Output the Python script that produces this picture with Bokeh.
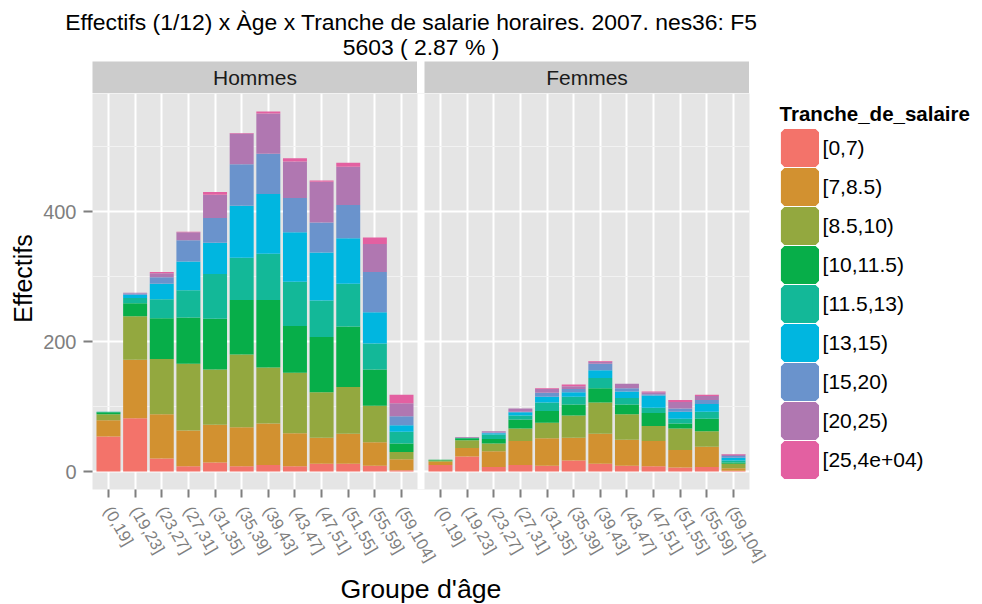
import math
from bokeh.plotting import figure
from bokeh.models import (ColumnDataSource, Range1d, FixedTicker, Legend, LegendItem,
                          BoxAnnotation)
from bokeh.layouts import column, row
from bokeh.embed import file_html
from bokeh.resources import INLINE
from bokeh.core.properties import value

FONT = "Liberation Sans"

# ---------------- data ----------------
age_groups = ["(0,19]", "(19,23]", "(23,27]", "(27,31]", "(31,35]", "(35,39]",
              "(39,43]", "(43,47]", "(47,51]", "(51,55]", "(55,59]", "(59,104]"]
tranches = ["[0,7)", "[7,8.5)", "[8.5,10)", "[10,11.5)", "[11.5,13)",
            "[13,15)", "[15,20)", "[20,25)", "[25,4e+04)"]
colors = ["#F3736A", "#D29130", "#93A83F", "#07AE49", "#13B898",
          "#00B6E0", "#6A93CC", "#B077B1", "#E360A1"]
facets = ["Hommes", "Femmes"]
y_ticks = [0, 200, 400]
y_minor = [100, 300, 500]

hommes_t0 = [54, 82, 20, 8, 14, 8, 10, 8, 12, 12, 9, 2]
hommes_t1 = [25, 90, 68, 55, 58, 60, 64, 51, 40, 46, 36, 17]
hommes_t2 = [9, 67, 85, 103, 85, 112, 86, 93, 70, 72, 56, 11]
hommes_t3 = [3, 20, 63, 71, 78, 84, 104, 72, 85, 93, 56, 13]
hommes_t4 = [1, 8, 29, 42, 69, 65, 71, 68, 56, 66, 40, 18]
hommes_t5 = [0, 5, 24, 44, 48, 80, 92, 76, 74, 70, 48, 10]
hommes_t6 = [0, 2, 10, 33, 38, 64, 62, 53, 46, 51, 62, 14]
hommes_t7 = [0, 1, 6, 12, 36, 47, 62, 56, 63, 59, 43, 20]
hommes_t8 = [0, 0, 2, 1, 4, 1, 3, 5, 2, 6, 10, 13]

femmes_t0 = [10, 23, 7, 10, 9, 17, 12, 9, 8, 6, 7, 1]
femmes_t1 = [5, 13, 24, 37, 42, 35, 46, 40, 39, 27, 31, 4]
femmes_t2 = [2, 12, 12, 19, 24, 34, 48, 39, 23, 33, 24, 7]
femmes_t3 = [1, 3, 7, 14, 18, 17, 22, 15, 20, 8, 19, 2]
femmes_t4 = [0, 1, 7, 6, 13, 12, 16, 10, 8, 7, 11, 3]
femmes_t5 = [0, 0, 2, 5, 9, 7, 12, 10, 19, 11, 12, 4]
femmes_t6 = [0, 0, 1, 1, 6, 5, 10, 5, 2, 5, 6, 3]
femmes_t7 = [0, 1, 2, 5, 6, 4, 3, 7, 3, 10, 6, 2]
femmes_t8 = [0, 0, 0, 0, 1, 3, 1, 0, 1, 3, 2, 1]

hommes = [hommes_t0, hommes_t1, hommes_t2, hommes_t3, hommes_t4,
          hommes_t5, hommes_t6, hommes_t7, hommes_t8]
femmes = [femmes_t0, femmes_t1, femmes_t2, femmes_t3, femmes_t4,
          femmes_t5, femmes_t6, femmes_t7, femmes_t8]

title1 = "Effectifs (1/12) x Àge x Tranche de salarie horaires. 2007. nes36:  F5"
title2 = "5603 ( 2.87 % )"
x_title = "Groupe d'âge"
y_title = "Effectifs"
legend_title = "Tranche_de_salaire"

# ---------------- geometry (px) ----------------
PANEL_W = 325          # facet panel width
GAP_W = 7              # gap between facet panels
PANEL_H = 396
LEFT = 54              # room for y tick labels
BOTTOM = 86            # room for rotated x tick labels
RIGHT = 20
TITLE_H = 60
STRIP_H = 33
XT_H = 28
YL_W = 38
LG_W = 982 - YL_W - (LEFT + 2 * PANEL_W + GAP_W + RIGHT)
ROW_H = STRIP_H + PANEL_H + BOTTOM

n = len(age_groups)
span = n + 0.2                       # ggplot discrete expansion 0.6 each side
gap_u = GAP_W * span / PANEL_W
offset = span + gap_u                # Femmes panel offset in x units
x_h = [i + 1.0 for i in range(n)]
x_f = [i + 1.0 + offset for i in range(n)]
x_range = Range1d(0.4, 0.4 + 2 * span + gap_u)

keys = ["t%d" % i for i in range(len(tranches))]
totals = [sum(v) for v in zip(*hommes)] + [sum(v) for v in zip(*femmes)]
ymax = max(totals)
pad = 0.05 * ymax
y_range = Range1d(-pad, ymax + pad)

GREY_TXT = "#7F7F7F"


def blank(p):
    p.xgrid.visible = False
    p.ygrid.visible = False


def make_canvas(width, height):
    c = figure(width=width, height=height, x_range=Range1d(0, width),
               y_range=Range1d(0, height),
               x_axis_location=None, y_axis_location=None, output_backend="svg",
               toolbar_location=None, min_border=0, outline_line_color=None,
               border_fill_color="white", background_fill_color="white")
    blank(c)
    return c


def make_strip(label, width, left):
    s = figure(width=width, height=STRIP_H, x_range=Range1d(0, 1), y_range=Range1d(0, 1),
               x_axis_location=None, y_axis_location=None, output_backend="svg",
               toolbar_location=None, min_border_left=left, min_border_right=0,
               min_border_top=1, min_border_bottom=0, background_fill_color="#CCCCCC",
               border_fill_color="white", outline_line_color=None)
    blank(s)
    s.text(x=[0.5], y=[0.5], text=[label], text_align="center", text_baseline="middle",
           text_font=value(FONT), text_font_size="21px", text_color="#1A1A1A")
    return s


# ---------------- main panels ----------------
main = figure(width=LEFT + 2 * PANEL_W + GAP_W + RIGHT, height=PANEL_H + BOTTOM,
              x_range=x_range, y_range=y_range,
              output_backend="svg", toolbar_location=None,
              min_border_left=LEFT, min_border_right=RIGHT, min_border_top=0,
              min_border_bottom=BOTTOM, background_fill_color="#E5E5E5",
              border_fill_color="white", outline_line_color=None)

src_h = ColumnDataSource(dict(x=x_h, **{k: v for k, v in zip(keys, hommes)}))
src_f = ColumnDataSource(dict(x=x_f, **{k: v for k, v in zip(keys, femmes)}))
main.vbar_stack(keys, x="x", width=0.9, fill_color=colors, line_color=None, source=src_h)
main.vbar_stack(keys, x="x", width=0.9, fill_color=colors, line_color=None, source=src_f)

# white gap between the two facet panels
main.add_layout(BoxAnnotation(left=0.4 + span, right=0.4 + span + gap_u,
                              fill_color="white", fill_alpha=1, line_color=None,
                              level="underlay"))

xa = main.xaxis[0]
xa.ticker = FixedTicker(ticks=x_h + x_f)
xa.major_label_overrides = {x: lab for x, lab in zip(x_h + x_f, age_groups + age_groups)}
xa.major_label_orientation = -math.radians(60)
xa.axis_line_color = None
xa.major_tick_line_color = GREY_TXT
xa.major_tick_line_width = 2
xa.major_tick_out = 8
xa.major_tick_in = 0
xa.minor_tick_line_color = None
xa.major_label_standoff = 10
xa.major_label_text_font = FONT
xa.major_label_text_font_size = "16.5px"
xa.major_label_text_color = GREY_TXT

ya = main.yaxis[0]
ya.ticker = FixedTicker(ticks=y_ticks, minor_ticks=y_minor)
ya.axis_line_color = None
ya.major_tick_line_color = GREY_TXT
ya.major_tick_line_width = 2
ya.major_tick_out = 9
ya.major_tick_in = 0
ya.minor_tick_line_color = None
ya.major_label_standoff = 7
ya.major_label_text_font = FONT
ya.major_label_text_font_size = "20px"
ya.major_label_text_color = GREY_TXT

main.xgrid.grid_line_color = "white"
main.xgrid.grid_line_width = 2
main.ygrid.grid_line_color = "white"
main.ygrid.grid_line_width = 2
main.ygrid.minor_grid_line_color = "#F2F2F2"
main.ygrid.minor_grid_line_width = 1.2

# ---------------- legend (own canvas; hidden proxies of the same data) ----------------
lg = figure(width=LG_W, height=ROW_H, x_range=Range1d(0, 1), y_range=Range1d(0, 1),
            x_axis_location=None, y_axis_location=None, output_backend="svg",
            toolbar_location=None, min_border=0, outline_line_color=None,
            border_fill_color="white", background_fill_color="white")
blank(lg)
proxies = lg.vbar_stack(keys, x="x", width=0.9, fill_color=colors, line_color=colors,
                        line_width=7, source=src_h)
for r in proxies:
    r.visible = False
legend_bottom = TITLE_H + ROW_H - 479
legend = Legend(items=[LegendItem(label=t, renderers=[r]) for t, r in zip(tranches, proxies)],
                location=(10.6, legend_bottom), title=legend_title,
                padding=0, margin=0, spacing=0, glyph_width=39, glyph_height=39,
                label_standoff=4, label_text_font=FONT, label_text_font_size="21px",
                label_text_color="black", title_text_font=FONT,
                title_text_font_size="20.5px", title_text_font_style="bold",
                title_text_color="black", title_standoff=2,
                inactive_fill_alpha=0,
                border_line_color=None, background_fill_alpha=0)
lg.add_layout(legend)

# ---------------- texts outside panels ----------------
tf = make_canvas(982, TITLE_H)
tf.text(x=[414, 420.5], y=[TITLE_H - 21, TITLE_H - 46], text=[title1, title2],
        text_align="center", text_baseline="middle", text_font=value(FONT),
        text_font_size="22.9px", text_color="black")

yl = make_canvas(YL_W, ROW_H)
yl.text(x=[22], y=[TITLE_H + ROW_H - 278], text=[y_title], angle=math.pi / 2,
        text_align="center", text_baseline="middle", text_font=value(FONT),
        text_font_size="25px", text_color="black")

xt = make_canvas(982, XT_H)
xt.text(x=[420.5], y=[XT_H - 13], text=[x_title], text_align="center",
        text_baseline="middle", text_font=value(FONT), text_font_size="26.7px",
        text_color="black")

strip_h = make_strip(facets[0], LEFT + PANEL_W, LEFT)
strip_f = make_strip(facets[1], GAP_W + PANEL_W, GAP_W)

layout = column(tf,
                row(yl, column(row(strip_h, strip_f), main), lg),
                xt)

open("out.html", "w").write(file_html(layout, INLINE))
